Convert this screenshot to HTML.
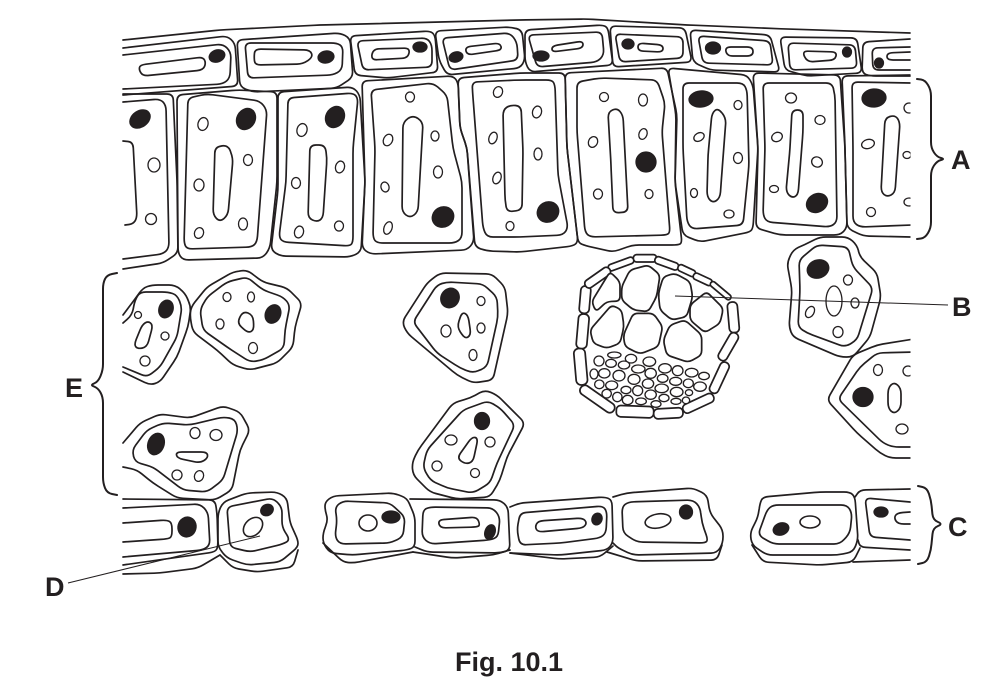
<!DOCTYPE html>
<html><head><meta charset="utf-8"><style>
html,body{margin:0;padding:0;background:#fff}
svg{display:block}
path{fill:none;stroke:#231f20;stroke-width:1.7;stroke-linejoin:round;stroke-linecap:round}
ellipse{fill:#fff;stroke:#231f20;stroke-width:1.3}
ellipse.n,path.n{fill:#231f20;stroke:#231f20}
line{stroke:#231f20;stroke-width:1}
text{font-family:"Liberation Sans",sans-serif;font-weight:bold;font-size:27px;fill:#231f20}
.z path,.z rect{fill:#fff;stroke:#231f20;stroke-width:5.2}
.z ellipse{stroke-width:4}
</style></head><body>
<svg xmlns="http://www.w3.org/2000/svg" width="1005" height="694" viewBox="0 0 1005 694">
<defs><clipPath id="cp"><rect x="120" y="0" width="790.5" height="694"/></clipPath></defs>

<!-- upper epidermis -->
<g>
<path d="M123 40L220 30 320 25 520 20 587 19 687 25 787 29 910 33"/>
<path d="M123 48L227 36 235 43 238 86 123 95"/>
<path d="M123 55L223 44 231 52 230 78 223 84 123 89"/>
<path d="M140 65L203 57 206 63 203 70 143 76 139 70Z"/>
<ellipse class="n" cx="217" cy="56" rx="8" ry="6" transform="rotate(-20 217 56)"/>
<path d="M237 40L340 33 350 38 353 77 337 88 253 92 240 87Z"/>
<path d="M245 43L337 43 343 47 342 70 333 75 248 78Z"/>
<path d="M255 49L310 50 313 57 303 64 255 65 254 57Z"/>
<ellipse class="n" cx="326" cy="57" rx="8" ry="6" transform="rotate(-10 326 57)"/>
<path d="M350 36L430 31 435 35 438 72 387 78 355 75Z"/>
<path d="M357 41L427 38 432 45 432 67 363 70Z"/>
<path d="M373 49L410 48 408 58 371 60Z"/>
<ellipse class="n" cx="420" cy="47" rx="7" ry="5"/>
<path d="M435 31L510 27 522 30 525 60 520 68 447 75 439 60Z"/>
<path d="M442 38L510 33 517 42 518 60 450 70Z"/>
<path d="M465 47L500 43 502 50 467 55Z"/>
<ellipse class="n" cx="456" cy="57" rx="7" ry="5" transform="rotate(-15 456 57)"/>
<path d="M525 30L603 25 608 28 613 65 530 72 525 62Z"/>
<path d="M528 35L602 32 604 55 597 62 537 67Z"/>
<path d="M552 46L583 41 583 48 552 52Z"/>
<ellipse class="n" cx="541" cy="56" rx="8" ry="5"/>
<path d="M610 26L685 28 692 62 613 67Z"/>
<path d="M615 34L683 37 683 58 620 62Z"/>
<path d="M638 43L663 45 663 52 638 51Z"/>
<ellipse class="n" cx="628" cy="44" rx="6" ry="5"/>
<path d="M690 30L770 35 780 72 710 70 693 62Z"/>
<path d="M698 36L770 41 773 65 703 63Z"/>
<path d="M725 47L753 47 753 56 727 56Z"/>
<ellipse class="n" cx="713" cy="48" rx="7.5" ry="6"/>
<path d="M780 37L857 38 862 73 807 76 785 70Z"/>
<path d="M788 43L855 45 857 68 790 70Z"/>
<path d="M802 51L837 52 835 60 807 62Z"/>
<ellipse class="n" cx="847" cy="52" rx="4.5" ry="5"/>
<path d="M910 39L863 42 862 73 870 76 910 76"/>
<path d="M910 47L872 48 873 70 910 70"/>
<path d="M910 52L887 53 887 60 910 60"/>
<ellipse class="n" cx="879" cy="63" rx="4.5" ry="5"/>
</g>

<!-- palisade -->
<g>
<path d="M123 94L173 94 177 180 178 253 163 263 123 269"/>
<path d="M123 102L160 99 166 105 169 248 163 254 123 259"/>
<path d="M123 141L133 142 137 218 133 224 125 225"/>
<ellipse class="n" cx="140" cy="119" rx="11" ry="8" transform="rotate(-35 140 119)"/>
<ellipse cx="154" cy="165" rx="6" ry="7"/><ellipse cx="151" cy="219" rx="5.5" ry="5.5"/>

<path d="M177 95L238 90 277 92 277 182 270 248 263 258 183 260 178 253Z"/>
<path d="M188 98L207 94 260 101 267 110 257 242 252 247 187 249 184 243Z"/>
<path d="M215 147L228 145 233 158 228 215 220 222 213 215Z"/>
<ellipse class="n" cx="246" cy="119" rx="9" ry="11" transform="rotate(30 246 119)"/>
<ellipse cx="203" cy="124" rx="5" ry="6.5" transform="rotate(15 203 124)"/><ellipse cx="248" cy="160" rx="4.5" ry="5.5"/><ellipse cx="199" cy="185" rx="5" ry="6"/><ellipse cx="243" cy="224" rx="4.5" ry="6"/><ellipse cx="199" cy="233" rx="4.5" ry="5.5" transform="rotate(20 199 233)"/>

<path d="M278 92L353 87 360 95 365 182 361 252 350 257 280 256 271 250 278 190Z"/>
<path d="M288 98L353 93 358 98 353 148 353 242 350 246 283 242 279 237 286 182Z"/>
<path d="M310 145L325 145 327 158 323 218 317 222 308 218Z"/>
<ellipse class="n" cx="335" cy="117" rx="9" ry="11" transform="rotate(30 335 117)"/>
<ellipse cx="302" cy="130" rx="5" ry="6.5" transform="rotate(15 302 130)"/><ellipse cx="340" cy="167" rx="4.5" ry="6" transform="rotate(15 340 167)"/><ellipse cx="296" cy="183" rx="4.5" ry="5.5"/><ellipse cx="339" cy="226" rx="4.5" ry="5"/><ellipse cx="299" cy="232" rx="4.5" ry="6" transform="rotate(15 299 232)"/>

<path d="M362 81L453 76 458 82 460 128 467 148 474 242 467 250 370 254 362 248 365 182Z"/>
<path d="M371 90L433 83 447 95 453 148 462 182 462 238 455 243 377 243 373 238 375 148Z"/>
<path d="M403 122L413 115 423 122 418 212 410 218 402 212Z"/>
<ellipse class="n" cx="443" cy="217" rx="11" ry="10" transform="rotate(-30 443 217)"/>
<ellipse cx="410" cy="97" rx="4.5" ry="5"/><ellipse cx="435" cy="136" rx="4" ry="5"/><ellipse cx="388" cy="140" rx="4.5" ry="6" transform="rotate(25 388 140)"/><ellipse cx="438" cy="172" rx="4.5" ry="6"/><ellipse cx="385" cy="187" rx="4" ry="5" transform="rotate(-15 385 187)"/><ellipse cx="388" cy="228" rx="4" ry="6.5" transform="rotate(20 388 228)"/>

<path d="M458 78L520 73 565 73 567 148 578 242 573 246 520 252 487 251 475 247 467 148 460 128Z"/>
<path d="M472 82L520 80 552 80 555 85 558 175 568 228 563 235 520 237 487 237 483 228 473 98Z"/>
<path d="M503 110L510 105 521 106 523 150 522 210 507 212 505 200Z"/>
<ellipse class="n" cx="548" cy="212" rx="11" ry="10" transform="rotate(-30 548 212)"/>
<ellipse cx="498" cy="92" rx="4.5" ry="5.5" transform="rotate(20 498 92)"/><ellipse cx="493" cy="138" rx="4" ry="6" transform="rotate(20 493 138)"/><ellipse cx="497" cy="178" rx="4" ry="6" transform="rotate(20 497 178)"/><ellipse cx="510" cy="226" rx="4" ry="4.5"/><ellipse cx="537" cy="112" rx="4.5" ry="6" transform="rotate(15 537 112)"/><ellipse cx="538" cy="154" rx="4" ry="6"/>

<path d="M565 73L667 68 677 115 675 182 682 243 678 245 633 245 613 252 583 245 578 242 567 148Z"/>
<path d="M577 82L600 78 657 80 665 103 662 132 670 232 667 235 590 237 585 232 577 132Z"/>
<path d="M608 112L617 108 623 115 628 212 613 213 611 165Z"/>
<ellipse class="n" cx="646" cy="162" rx="10" ry="10"/>
<ellipse cx="604" cy="97" rx="4.5" ry="4.5"/><ellipse cx="643" cy="100" rx="4.5" ry="6"/><ellipse cx="593" cy="142" rx="4.5" ry="5.5" transform="rotate(25 593 142)"/><ellipse cx="643" cy="134" rx="4" ry="5.5" transform="rotate(20 643 134)"/><ellipse cx="598" cy="194" rx="4.5" ry="5"/><ellipse cx="649" cy="194" rx="4" ry="4.5"/>

<path d="M668 68L747 75 753 85 758 148 753 228 750 232 700 242 683 235 675 182 676 115Z"/>
<path d="M683 83L743 83 747 90 749 165 743 225 692 229 687 222 683 148Z"/>
<path d="M712 113L718 108 726 118 722 172 720 198 713 203 707 197 708 155Z"/>
<ellipse class="n" cx="701" cy="99" rx="12" ry="8" transform="rotate(-5 701 99)"/>
<ellipse cx="738" cy="105" rx="4" ry="4.5"/><ellipse cx="699" cy="137" rx="5.5" ry="4" transform="rotate(-30 699 137)"/><ellipse cx="738" cy="158" rx="4.5" ry="5.5"/><ellipse cx="694" cy="193" rx="3.5" ry="4.5"/><ellipse cx="729" cy="214" rx="5" ry="4"/>

<path d="M753 73L840 75 845 148 847 228 840 235 780 235 756 228 758 148Z"/>
<path d="M763 83L832 83 835 95 837 222 830 227 767 222 763 215 765 148Z"/>
<path d="M792 110L803 110 803 132 798 195 792 198 786 192 790 148Z"/>
<ellipse class="n" cx="817" cy="203" rx="11" ry="9" transform="rotate(-30 817 203)"/>
<ellipse cx="791" cy="98" rx="5.5" ry="5"/><ellipse cx="820" cy="120" rx="5" ry="4.5"/><ellipse cx="777" cy="137" rx="5.5" ry="4.5" transform="rotate(-25 777 137)"/><ellipse cx="817" cy="162" rx="5.5" ry="5" transform="rotate(30 817 162)"/><ellipse cx="774" cy="189" rx="4.5" ry="3.5"/>

<g clip-path="url(#cp)">
<path d="M912 75L842 76 845 148 847 228 863 236 912 237"/>
<path d="M912 83L852 82 853 148 853 222 860 227 912 225"/>
<path d="M885 118L895 115 900 122 895 193 887 197 881 192Z"/>
<ellipse class="n" cx="874" cy="98" rx="12" ry="9" transform="rotate(-5 874 98)"/>
<ellipse cx="868" cy="144" rx="6.5" ry="4.5" transform="rotate(-15 868 144)"/><ellipse cx="871" cy="212" rx="4.5" ry="4.5"/><ellipse cx="909" cy="108" rx="5" ry="5"/><ellipse cx="907" cy="155" rx="4" ry="3.5"/><ellipse cx="909" cy="202" rx="5" ry="4"/>
</g>
</g>

<!-- spongy cells -->
<g>
<path d="M123 372L150 385 160 382 177 357 188 327 191 307 185 293 175 285 152 285 143 288 132 303 123 315"/>
<path d="M123 367L147 377 160 367 177 337 182 307 177 295 168 292 140 292 135 300 132 315 123 323"/>
<ellipse class="n" cx="166" cy="309" rx="7" ry="9" transform="rotate(20 166 309)"/>
<path d="M148 321L153 325 147 347 138 349 134 345 142 325Z"/>
<ellipse cx="138" cy="315" rx="3.5" ry="3.5"/><ellipse cx="165" cy="336" rx="4" ry="4"/><ellipse cx="145" cy="361" rx="5" ry="5"/>

<path d="M191 307L207 287 233 272 247 270 263 282 287 288 302 303 295 327 293 347 277 363 250 370 233 365 217 350 193 332 190 317Z"/>
<path d="M200 310L207 297 227 282 247 277 263 290 283 297 290 305 285 330 284 348 263 360 250 362 227 347 203 330Z"/>
<ellipse class="n" cx="273" cy="314" rx="7.5" ry="9.5" transform="rotate(25 273 314)"/>
<path d="M243 311L253 315 254 330 248 333 237 323Z"/>
<ellipse cx="227" cy="297" rx="4" ry="4.5"/><ellipse cx="251" cy="297" rx="3.5" ry="5"/><ellipse cx="220" cy="324" rx="4" ry="5"/><ellipse cx="253" cy="348" rx="4.5" ry="5.5"/>

<path d="M123 443L140 423 160 414 190 418 223 406 240 412 250 430 240 450 232 490 215 500 177 498 153 483 137 470 123 467"/>
<path d="M132 450L147 430 163 423 190 425 223 417 235 419 238 430 223 480 207 492 183 490 153 467 135 462Z"/>
<ellipse class="n" cx="156" cy="444" rx="8" ry="11" transform="rotate(20 156 444)"/>
<path d="M176 452L207 452 208 458 200 463 177 458Z"/>
<ellipse cx="195" cy="433" rx="5" ry="5.5"/><ellipse cx="216" cy="435" rx="6" ry="5.5"/><ellipse cx="177" cy="475" rx="5" ry="5"/><ellipse cx="199" cy="476" rx="4.5" ry="5.5" transform="rotate(20 199 476)"/>

<path d="M402 322L427 283 440 273 492 274 505 287 508 313 493 380 473 383 457 375 407 333Z"/>
<path d="M413 322L437 285 447 282 483 284 497 297 498 317 487 367 473 373 460 368 437 353Z"/>
<ellipse class="n" cx="450" cy="298" rx="9" ry="10" transform="rotate(30 450 298)"/>
<path d="M462 312L468 315 471 335 465 339 457 327Z"/>
<ellipse cx="481" cy="301" rx="4" ry="4.5"/><ellipse cx="446" cy="331" rx="5" ry="6"/><ellipse cx="481" cy="328" rx="4" ry="5"/><ellipse cx="473" cy="355" rx="4" ry="5.5"/>

<path d="M412 463L418 450 453 403 470 398 485 390 497 395 525 423 507 457 500 480 490 497 457 499 430 492 413 475Z"/>
<path d="M423 467L427 450 463 410 488 401 500 408 515 425 497 463 490 483 473 493 447 488 430 480Z"/>
<ellipse class="n" cx="482" cy="421" rx="7.5" ry="8.5"/>
<path d="M472 437L478 438 473 462 465 464 457 458Z"/>
<ellipse cx="451" cy="440" rx="6" ry="5"/><ellipse cx="490" cy="442" rx="5" ry="5"/><ellipse cx="437" cy="466" rx="5" ry="5"/><ellipse cx="475" cy="473" rx="4.5" ry="4.5"/>

<path d="M787 263L793 250 810 242 820 237 848 237 857 245 860 257 877 273 881 297 870 337 853 357 840 357 793 337 789 327 792 290Z"/>
<path d="M799 260L817 245 848 247 853 267 873 288 857 340 845 347 807 333 798 327 800 290Z"/>
<ellipse class="n" cx="818" cy="269" rx="11" ry="9" transform="rotate(-20 818 269)"/>
<ellipse cx="834" cy="301" rx="8" ry="15"/>
<ellipse cx="848" cy="280" rx="4.5" ry="5"/><ellipse cx="855" cy="303" rx="4" ry="5"/><ellipse cx="810" cy="312" rx="4" ry="6" transform="rotate(30 810 312)"/><ellipse cx="838" cy="332" rx="5" ry="5.5"/>

<g clip-path="url(#cp)">
<path d="M914 339L877 345 853 355 827 400 857 433 880 453 890 458 914 458"/>
<path d="M914 352L877 353 860 367 838 399 883 443 893 447 914 447"/>
<ellipse class="n" cx="863" cy="397" rx="10" ry="9.5"/>
<path d="M888 388L894 382 901 388 901 408 894 414 888 408Z"/>
<ellipse cx="878" cy="370" rx="4.5" ry="5.5"/><ellipse cx="908" cy="371" rx="5" ry="5"/><ellipse cx="902" cy="429" rx="6" ry="5"/>
</g>

<!-- B: vascular bundle -->
<g class="z" transform="translate(560 240) scale(.33333)">
<g>
<rect x="220" y="44" width="70" height="22" rx="10"/>
<rect x="143" y="62" width="80" height="20" rx="9" transform="rotate(-20 183 72)"/>
<rect x="283" y="59" width="74" height="22" rx="10" transform="rotate(20 320 70)"/>
<rect x="352" y="82" width="56" height="20" rx="9" transform="rotate(25 380 92)"/>
<rect x="398" y="108" width="60" height="20" rx="9" transform="rotate(25 428 118)"/>
<rect x="444" y="144" width="76" height="16" rx="8" transform="rotate(40 482 152)"/>
<rect x="505" y="186" width="30" height="92" rx="13" transform="rotate(-5 520 232)"/>
<rect x="491" y="274" width="28" height="92" rx="13" transform="rotate(30 505 320)"/>
<rect x="464" y="363" width="28" height="100" rx="13" transform="rotate(25 478 413)"/>
<rect x="365" y="476" width="100" height="28" rx="13" transform="rotate(-25 415 490)"/>
<rect x="281" y="505" width="88" height="30" rx="13" transform="rotate(-3 325 520)"/>
<rect x="169" y="498" width="112" height="34" rx="13" transform="rotate(2 225 515)"/>
<rect x="52" y="462" width="120" height="30" rx="14" transform="rotate(35 112 477)"/>
<rect x="45" y="325" width="34" height="110" rx="15" transform="rotate(-5 62 380)"/>
<rect x="52" y="222" width="32" height="104" rx="14" transform="rotate(5 68 274)"/>
<rect x="60" y="138" width="30" height="82" rx="13" transform="rotate(5 75 179)"/>
<rect x="69" y="100" width="88" height="26" rx="12" transform="rotate(-35 113 113)"/>
</g>
<g>
<path d="M95 185L150 95 180 125 180 183 140 185 108 215Z"/>
<path d="M185 140L210 90 265 75 300 105 290 170 265 215 220 210 185 180Z"/>
<path d="M295 160L310 110 345 100 390 125 398 170 380 230 335 240 300 210Z"/>
<path d="M390 195L440 155 490 205 480 250 435 278 390 240Z"/>
<path d="M90 270L155 195 185 210 192 260 180 310 140 325 100 310Z"/>
<path d="M190 285L220 220 280 220 308 260 295 320 240 342 195 320Z"/>
<path d="M310 300L330 255 375 240 425 285 425 345 385 367 320 345Z"/>
</g>
<g>
<ellipse cx="163" cy="345" rx="20" ry="9"/>
<ellipse cx="117" cy="363" rx="15" ry="15"/>
<ellipse cx="153" cy="370" rx="16" ry="12"/>
<ellipse cx="213" cy="356" rx="17" ry="13"/>
<ellipse cx="268" cy="365" rx="19" ry="14"/>
<ellipse cx="192" cy="375" rx="17" ry="12"/>
<ellipse cx="235" cy="387" rx="20" ry="12"/>
<ellipse cx="315" cy="385" rx="19" ry="14"/>
<ellipse cx="353" cy="392" rx="16" ry="15"/>
<ellipse cx="395" cy="398" rx="19" ry="13"/>
<ellipse cx="432" cy="408" rx="16" ry="11"/>
<ellipse cx="102" cy="402" rx="12" ry="15"/>
<ellipse cx="133" cy="400" rx="17" ry="14"/>
<ellipse cx="177" cy="407" rx="18" ry="16"/>
<ellipse cx="272" cy="400" rx="17" ry="15"/>
<ellipse cx="308" cy="415" rx="16" ry="12"/>
<ellipse cx="222" cy="418" rx="18" ry="15"/>
<ellipse cx="347" cy="424" rx="18" ry="12"/>
<ellipse cx="385" cy="430" rx="15" ry="13"/>
<ellipse cx="420" cy="440" rx="19" ry="14"/>
<ellipse cx="118" cy="433" rx="14" ry="13"/>
<ellipse cx="155" cy="436" rx="18" ry="13"/>
<ellipse cx="264" cy="431" rx="17" ry="14"/>
<ellipse cx="305" cy="445" rx="20" ry="13"/>
<ellipse cx="198" cy="450" rx="15" ry="11"/>
<ellipse cx="233" cy="452" rx="15" ry="15"/>
<ellipse cx="350" cy="456" rx="19" ry="14"/>
<ellipse cx="387" cy="458" rx="11" ry="9"/>
<ellipse cx="140" cy="461" rx="14" ry="13"/>
<ellipse cx="172" cy="471" rx="14" ry="14"/>
<ellipse cx="272" cy="464" rx="17" ry="14"/>
<ellipse cx="312" cy="474" rx="15" ry="11"/>
<ellipse cx="203" cy="480" rx="16" ry="14"/>
<ellipse cx="243" cy="484" rx="16" ry="10"/>
<ellipse cx="288" cy="492" rx="15" ry="10"/>
<ellipse cx="348" cy="484" rx="15" ry="9"/>
<ellipse cx="378" cy="481" rx="11" ry="10"/>
</g>
</g>
</g>

<!-- lower epidermis -->
<g>
<path d="M123 499L215 500 217 513 218 547 215 552 123 565"/>
<path d="M123 508L200 504 208 512 210 545 203 550 123 557"/>
<path d="M123 523L167 520 172 523 172 537 167 539 123 542"/>
<ellipse class="n" cx="187" cy="527" rx="9" ry="10" transform="rotate(15 187 527)"/>
<path d="M123 574L160 573 198 568 220 555"/>
<path d="M218 513L223 502 247 493 277 492 287 498 290 523 298 540 298 547 280 562 247 565 227 558 218 547Z"/>
<path d="M227 507L273 498 282 507 282 527 290 540 283 544 250 552 230 547Z"/>
<ellipse cx="253" cy="527" rx="11" ry="8" transform="rotate(-45 253 527)" style="stroke-width:1.6;fill:none"/>
<ellipse class="n" cx="267" cy="510" rx="6.5" ry="5.5" transform="rotate(-30 267 510)"/>
<path d="M220 555L233 568 257 572 293 567 298 550"/>

<path d="M325 502L333 496 393 493 407 498 415 517 415 547 407 550 353 555 330 553 323 543 323 533 328 520 325 510Z"/>
<path d="M335 507L343 501 390 503 405 517 403 537 390 543 340 544 335 537 337 520Z"/>
<path d="M323 543L343 562 353 563 413 552"/>
<ellipse cx="368" cy="523" rx="9" ry="8" style="stroke-width:1.6"/>
<ellipse class="n" cx="391" cy="517" rx="9" ry="6"/>

<path d="M410 499L500 500 508 507 510 550 500 553 427 552 415 547"/>
<path d="M423 510L430 507 493 508 500 517 498 537 490 540 430 544 422 537Z"/>
<path d="M413 552L453 558 493 555 510 550"/>
<path d="M438 520L477 517 480 525 477 527 440 528Z"/>
<ellipse class="n" cx="490" cy="532" rx="5" ry="7.5" transform="rotate(20 490 532)"/>

<path d="M510 507L520 503 605 497 612 500 613 543 607 550 560 555 510 553"/>
<path d="M520 513L603 506 607 512 606 533 600 538 560 543 520 545 517 530Z"/>
<path d="M510 553L560 559 600 557 613 546"/>
<path d="M538 521L583 518 587 523 583 528 538 532 535 527Z"/>
<ellipse class="n" cx="597" cy="519" rx="5" ry="6" transform="rotate(20 597 519)"/>

<path d="M613 497L627 493 693 488 707 495 710 513 723 530 723 543 717 553 633 555 618 548 613 543"/>
<path d="M622 507L628 502 693 500 700 507 702 523 708 540 705 543 637 542 623 533Z"/>
<path d="M607 552L637 561 717 560 722 545"/>
<ellipse cx="658" cy="521" rx="13" ry="7" transform="rotate(-10 658 521)" style="stroke-width:1.6"/>
<ellipse class="n" cx="686" cy="512" rx="6.5" ry="7"/>

<path d="M760 503L763 497 820 492 850 492 855 497 858 540 853 552 837 555 767 555 752 545 750 533 758 517Z"/>
<path d="M767 510L773 505 847 505 852 513 850 533 840 544 773 544 758 535Z"/>
<path d="M752 545L763 562 820 565 853 562 860 548"/>
<ellipse cx="810" cy="522" rx="10" ry="6" style="stroke-width:1.6"/>
<ellipse class="n" cx="781" cy="529" rx="8" ry="6" transform="rotate(-20 781 529)"/>

<path d="M910 489L860 490 855 497"/>
<path d="M858 540L860 547 910 550"/>
<path d="M853 562L910 560"/>
<path d="M910 502L865 498 870 537 910 540"/>
<path d="M910 512L897 513 894 518 898 524 910 524"/>
<ellipse class="n" cx="881" cy="512" rx="7" ry="5"/>
</g>

<!-- braces -->
<g>
<path style="stroke-width:2" d="M917 79L925 80 931 90 931 148 937 157 945 159 937 161 931 170 931 228 925 238 917 239"/>
<path style="stroke-width:2" d="M117 273L107 275 103 283 103 370 98 382 90 385 98 388 103 397 103 483 107 493 117 495"/>
<path style="stroke-width:2" d="M918 486L927 488 931 500 933 520 943 524 933 528 931 550 927 562 918 564"/>
</g>

<!-- leaders -->
<line x1="675" y1="296" x2="948" y2="305"/>
<line x1="68" y1="583" x2="260" y2="536"/>

<!-- labels -->
<text x="951" y="169">A</text>
<text x="952" y="316">B</text>
<text x="948" y="536">C</text>
<text x="45" y="596">D</text>
<text x="65" y="397">E</text>
<text x="455" y="671">Fig. 10.1</text>
</svg>
<script>
document.querySelectorAll('svg path').forEach(function(p){
  var d=p.getAttribute('d'),n=d.match(/-?[\d.]+/g).map(Number),closed=/Z\s*$/.test(d),pts=[];
  for(var i=0;i<n.length;i+=2)pts.push([n[i],n[i+1]]);
  var m=pts.length,R=p.closest('.z')?14:6;
  function toward(a,b){var dx=b[0]-a[0],dy=b[1]-a[1],l=Math.hypot(dx,dy)||1,r=Math.min(R,l/2)/l;return [(a[0]+dx*r).toFixed(1),(a[1]+dy*r).toFixed(1)];}
  var o='';
  if(closed){
    var s=toward(pts[0],pts[m-1]);o='M'+s[0]+' '+s[1];
    for(var i=0;i<m;i++){var b=pts[i],a=pts[(i-1+m)%m],c=pts[(i+1)%m],q1=toward(b,a),q2=toward(b,c);o+='L'+q1[0]+' '+q1[1]+'Q'+b[0]+' '+b[1]+' '+q2[0]+' '+q2[1];}
    o+='Z';
  }else{
    o='M'+pts[0][0]+' '+pts[0][1];
    for(var i=1;i<m-1;i++){var b=pts[i],q1=toward(b,pts[i-1]),q2=toward(b,pts[i+1]);o+='L'+q1[0]+' '+q1[1]+'Q'+b[0]+' '+b[1]+' '+q2[0]+' '+q2[1];}
    o+='L'+pts[m-1][0]+' '+pts[m-1][1];
  }
  p.setAttribute('d',o);
});
</script>
</body></html>
